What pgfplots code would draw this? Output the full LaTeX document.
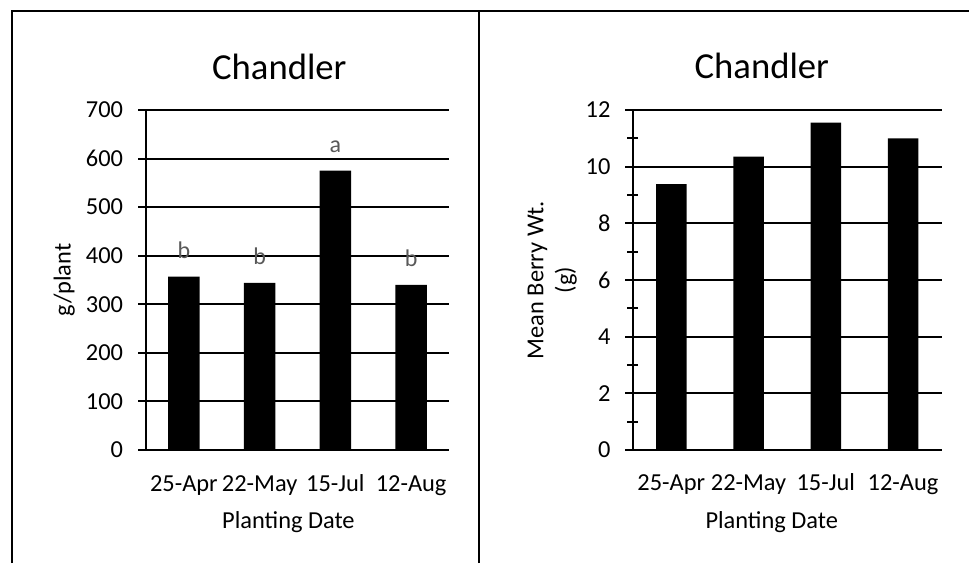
\documentclass[border=0pt]{standalone}
\usepackage{pgfplots}
\pgfplotsset{compat=1.18}
\usepackage{fontspec}
\setmainfont{Carlito}
\definecolor{lettergray}{HTML}{595959}
\pgfplotsset{
  common/.style={
    scale only axis,
    axis x line*=bottom,
    axis y line*=left,
    axis line style={line width=1.5pt, black},
    ybar,
    xmin=-0.5, xmax=3.5, ymin=0,
    xtick={0,1,2,3},
    xticklabels={25-Apr,22-May,15-Jul,12-Aug},
    x tick style={draw=none},
    ymajorgrids,
    major grid style={line width=1.5pt, black},
    tick style={line width=1.4pt, black},
    /pgf/number format/assume math mode=true,
    tick label style={font=\fontsize{18.3}{22}\selectfont},
    label style={font=\fontsize{18.3}{22}\selectfont},
    title style={font=\fontsize{27.5}{33}\selectfont, anchor=base},
    xticklabel style={anchor=base, yshift=-25pt},
    yticklabel style={anchor=east, inner sep=0pt},
    height=255pt,
    anchor=south west,
    xlabel={Planting Date},
    clip=false,
  }
}
\begin{document}
\begin{tikzpicture}
\useasboundingbox (0,0) rectangle (726.75pt,422.25pt);
\draw[line width=1.5pt] (9pt,0) -- (9pt,414pt) -- (726.75pt,414pt);
\draw[line width=1.5pt] (359.25pt,0) -- (359.25pt,414pt);

\begin{axis}[common,
  at={(109.5pt,84.75pt)},
  width=227.25pt,
  ymax=700, ytick={0,100,...,700},
  bar width=23.6pt,
  tick align=outside, major tick length=6pt,
  title={Chandler},
  title style={at={(axis description cs:0.44,1)}, yshift=17.25pt},
  ylabel={g/plant},
  ylabel style={at={(axis description cs:-0.27,0.5)}, anchor=center},
  xlabel style={at={(axis description cs:0.47,-0.212)}, anchor=center},
  yticklabel style={xshift=-11pt},
]
\addplot[fill=black, draw=none, nodes near coords, point meta=explicit symbolic,
  every node near coord/.append style={anchor=base, yshift=13.5pt, text=lettergray, font=\fontsize{18}{21}\selectfont}]
  table[meta=lab] {
x y lab
0 357 b
1 344 b
2 575 a
3 340 b
};
\end{axis}

\begin{axis}[common,
  at={(474.5pt,84.75pt)},
  width=231.75pt,
  ymax=12, ytick={0,2,...,12},
  minor y tick num=1,
  bar width=22.9pt,
  tick align=center, major tick length=11pt, minor tick length=8.5pt,
  title={Chandler},
  title style={at={(axis description cs:0.418,1)}, yshift=17.25pt},
  ylabel={Mean Berry Wt.\\(g)},
  ylabel style={at={(axis description cs:-0.26,0.5)}, anchor=center, align=center},
  xlabel style={at={(axis description cs:0.45,-0.212)}, anchor=center},
  yticklabel style={xshift=-11pt},
]
\addplot[fill=black, draw=none] table {
x y
0 9.38
1 10.35
2 11.55
3 11.0
};
\end{axis}
\end{tikzpicture}
\end{document}
